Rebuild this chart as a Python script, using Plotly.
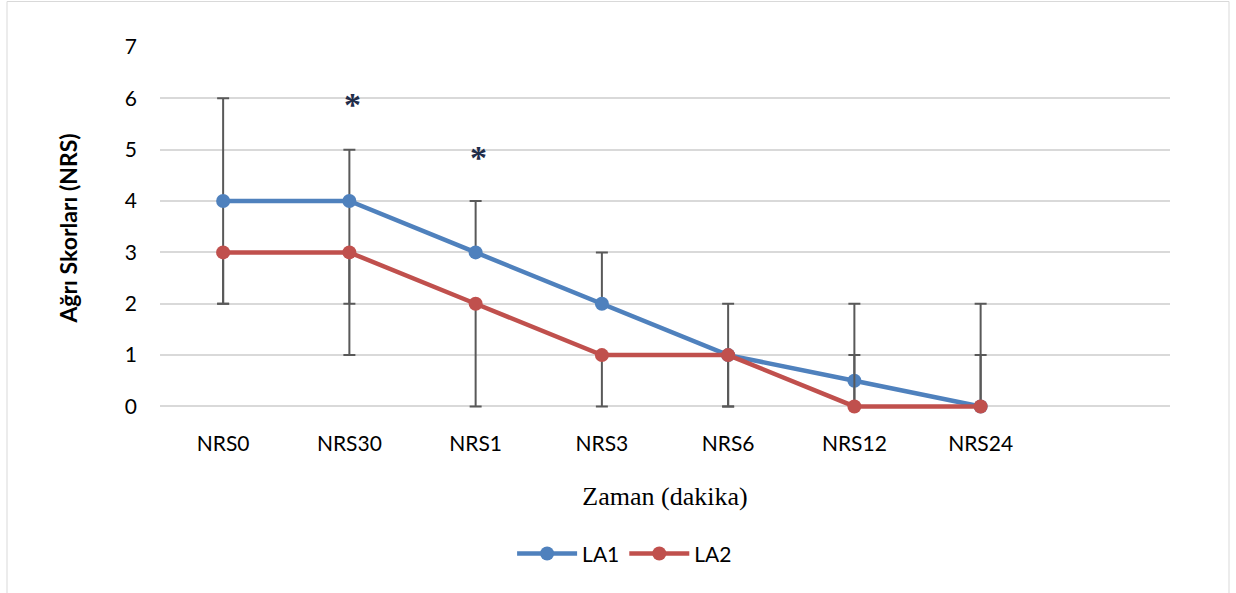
import plotly.graph_objects as go

categories = ["NRS0", "NRS30", "NRS1", "NRS3", "NRS6", "NRS12", "NRS24"]
la1 = [4, 4, 3, 2, 1, 0.5, 0]
la2 = [3, 3, 2, 1, 1, 0, 0]
la1_err_plus = [2, 1, 1, 1, 1, 1.5, 2]
la1_err_minus = [2, 2, 0, 0, 1, 0.5, 0]
la2_err_plus = [0, 0, 0, 0, 0, 1, 1]
la2_err_minus = [1, 2, 2, 1, 1, 0, 0]
star_cats = ["NRS30", "NRS1"]
star_y = [5.88, 4.85]

BLUE = "#4F81BD"
RED = "#C0504D"
ERR = "#595959"
FONT = "Lato"

fig = go.Figure()
fig.add_trace(go.Scatter(
    x=categories, y=la1, name="LA1", mode="lines+markers", cliponaxis=False,
    line=dict(color=BLUE, width=4.5), marker=dict(color=BLUE, size=14),
    error_y=dict(type="data", symmetric=False, array=la1_err_plus,
                 arrayminus=la1_err_minus, color=ERR, thickness=2, width=6),
))
fig.add_trace(go.Scatter(
    x=categories, y=la2, name="LA2", mode="lines+markers", cliponaxis=False,
    line=dict(color=RED, width=4.5), marker=dict(color=RED, size=14),
    error_y=dict(type="data", symmetric=False, array=la2_err_plus,
                 arrayminus=la2_err_minus, color=ERR, thickness=2, width=6),
))

for c, yv in zip(star_cats, star_y):
    fig.add_annotation(x=c, y=yv, text="<b>*</b>", showarrow=False, xshift=3,
                       font=dict(family="Liberation Serif", size=34, color="#1f2d4a"))

fig.update_layout(
    width=1236, height=593,
    margin=dict(l=160, r=66, t=47, b=184),
    paper_bgcolor="white", plot_bgcolor="white",
    font=dict(family=FONT, size=20, color="#000000"),
    xaxis=dict(type="category", range=[-0.5, 7.5], showgrid=False, showline=False,
               zeroline=False, ticks="", tickfont=dict(family=FONT, size=21),
               ticklabelstandoff=20,
               title=dict(text="Zaman (dakika)", standoff=32,
                          font=dict(family="Liberation Serif", size=26, color="#000"))),
    yaxis=dict(range=[-0.05, 7], tickvals=[0, 1, 2, 3, 4, 5, 6, 7], showgrid=True,
               gridcolor="#D9D9D9", gridwidth=1.5,
               zeroline=False, showline=False, ticks="", ticklabelstandoff=22,
               tickfont=dict(family=FONT, size=21),
               title=dict(text="<b>Ağrı Skorları (NRS)</b>", standoff=40,
                          font=dict(family=FONT, size=23, color="#000"))),
    legend=dict(orientation="h", x=0.46, xanchor="center", y=-0.40, yanchor="middle",
                font=dict(family=FONT, size=21), itemwidth=60),
    shapes=[dict(type="rect", xref="paper", yref="paper",
                 x0=(7 - 160) / 1010, x1=(1229 - 160) / 1010,
                 y0=-0.6, y1=(409 - 1.5) / 362,
                 line=dict(color="#D9D9D9", width=1), layer="below")],
)

fig.write_html("out.html")
